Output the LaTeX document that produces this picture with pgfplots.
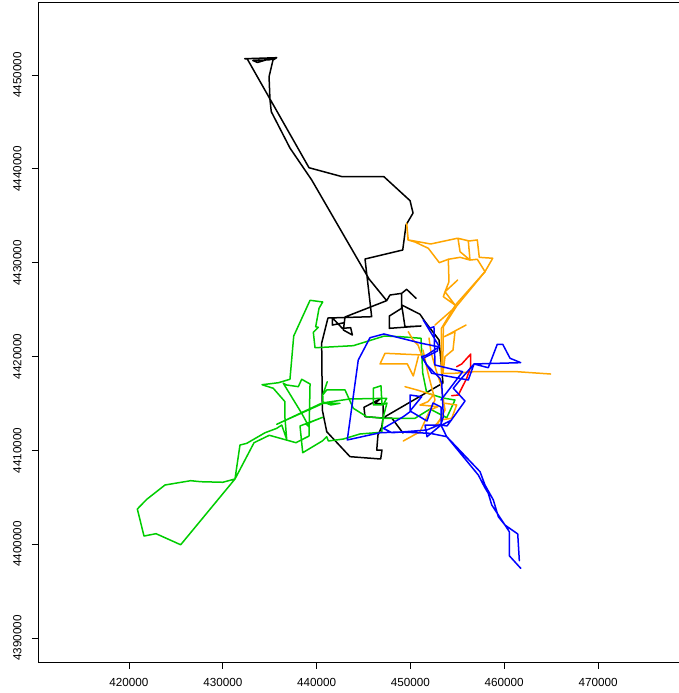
\documentclass[border=0pt]{standalone}
\usepackage{fontspec}
\setmainfont{Liberation Sans}
\usepackage{pgfplots}
\pgfplotsset{compat=1.18}
\definecolor{grthree}{HTML}{00CD00}
\definecolor{orng}{HTML}{FFA500}
\begin{document}
\begin{tikzpicture}
\path[use as bounding box] (-39pt,-31pt) rectangle (640pt,662pt);
\begin{axis}[
  at={(0pt,0pt)},anchor=south west,
  scale only axis,width=650pt,height=659pt,
  xmin=410407,xmax=479697,ymin=4387442,ymax=4457691,
  xtick={420000,430000,440000,450000,460000,470000},
  xticklabels={420000,430000,440000,450000,460000,470000},
  ytick={4390000,4400000,4410000,4420000,4430000,4440000,4450000},
  yticklabels={4390000,4400000,4410000,4420000,4430000,4440000,4450000},
  scaled ticks=false,
  xtick pos=bottom,ytick pos=left,
  tick align=outside,
  major tick length=7pt,
  tick style={black,line width=0.9pt},
  axis line style={black,line width=1pt},
  ticklabel style={font=\fontsize{11.7}{13}\selectfont},
  xticklabel style={anchor=north,yshift=-6pt},
  yticklabel style={xshift=-7pt,rotate=90,anchor=south},
  every axis plot/.style={line width=1.5pt,line join=round,line cap=round,no markers},
]
% black track
\addplot[black] coordinates {
(449210,4411850)(448010,4413450)(447080,4413450)(445160,4413590)(445050,4414590)(446760,4415480)(446230,4415020)(447080,4414940)(447080,4413450)(446940,4412490)(446540,4411640)(446410,4410040)(446970,4410040)(446830,4409080)(443560,4409330)(441080,4411990)(440610,4414300)(440540,4421450)(441210,4424110)(445870,4424250)(445160,4430400)(449180,4431360)(449530,4434020)(450280,4435300)(449960,4436620)(447180,4439170)(442740,4439170)(439190,4440130)(432610,4451720)(432340,4451750)(435750,4451860)(434700,4451650)(433700,4451350)(433200,4451560)(435000,4451640)(435750,4451860)(435350,4451610)(434930,4449830)(435030,4447350)(435170,4446100)(437160,4442230)(439480,4438820)(445590,4428270)(447470,4425960)(443030,4424220)(442850,4422830)(443810,4422300)(443630,4423080)(442740,4423010)(441670,4424140)(441670,4423360)(442950,4423610)(443030,4424220)(447470,4425960)(447820,4426560)(449070,4426740)(449600,4427170)(450600,4426210)(449600,4427170)(449070,4426740)(449070,4425150)(447750,4424320)(447750,4423010)(451130,4423260)(449420,4423180)(449070,4425500)(451020,4424510)(451560,4423720)(453050,4421770)(453470,4417180)(447290,4413590)
};
% green track
\addplot[grthree] coordinates {
(435750,4412350)(436280,4412700)(436810,4411180)(436630,4413420)(436630,4415190)(435380,4416620)(434180,4417000)(435920,4417210)(437160,4417580)(437560,4422190)(439300,4426000)(440650,4425820)(440260,4425150)(439900,4423180)(440180,4423120)(439650,4422590)(439830,4420940)(443910,4421160)(447220,4422190)(448890,4422120)(451130,4421950)(451310,4418250)(451740,4416120)(453470,4415580)(454750,4415370)(453870,4413480)(452090,4414410)(450490,4413420)(447110,4413420)(445340,4413590)(443910,4414490)(443030,4416440)(441080,4416440)(440650,4415900)(441140,4417320)(440650,4415900)(440680,4415160)(441530,4414840)(442490,4415020)(440710,4415020)(435750,4412780)(440580,4415050)(443560,4415480)(447470,4415550)(447080,4414840)(446040,4414840)(446040,4416620)(446860,4416890)(446970,4414840)(447500,4415050)(447080,4413450)(446940,4411930)(444630,4411750)(442850,4411210)(441250,4411000)(441080,4411460)(440650,4411030)(438520,4409750)(438230,4412600)(440650,4413530)(438870,4412810)(439190,4412520)(438410,4413950)(436450,4417150)(436810,4416970)(438050,4416790)(438410,4417580)(439300,4417080)(439190,4411530)(437800,4410820)(434960,4411610)(433330,4410820)(431300,4406950)(425510,4399940)(422880,4401120)(421600,4400870)(420890,4403750)(421890,4404780)(423840,4406310)(426580,4406770)(427640,4406660)(429990,4406600)(431300,4406950)(431830,4410570)(432550,4410750)(434500,4411880)(435750,4412350)
};
% orange tracks
\addplot[orng] coordinates {
(449600,4434210)(449770,4432430)(450240,4432350)(452160,4432000)(455000,4432610)(456170,4432350)(456350,4430290)(455290,4431180)(455070,4432610)(456250,4432320)(457130,4432430)(457340,4430580)(458770,4430480)(457950,4429050)(457130,4430370)(456350,4430290)(455290,4430580)(454040,4430370)(453080,4430010)(451910,4431540)(450490,4432210)(449740,4432430)(449600,4434210)
};
\addplot[orng] coordinates {
(454040,4430370)(454110,4427980)(453690,4426910)(453510,4426380)(454750,4425500)(453690,4426910)(455040,4428160)
};
\addplot[orng] coordinates {
(457950,4429050)(454930,4425390)(452620,4423360)(454930,4425390)(453510,4423180)(453440,4418220)(454750,4418220)(456780,4418390)(461330,4418390)(464950,4418140)
};
\addplot[orng] coordinates {
(457950,4429050)(454800,4425500)(453300,4423000)(453300,4418220)
};
\addplot[orng] coordinates {
(455930,4423360)(453610,4422120)(454750,4422650)(454540,4420700)(453690,4419990)(453470,4418250)
};
\addplot[orng] coordinates {
(449770,4422650)(450280,4421770)(450810,4421230)(451200,4420170)(447290,4420350)(446760,4419210)(449670,4419210)(450310,4417930)(450840,4419990)
};
\addplot[orng] coordinates {
(449420,4416790)(450700,4416440)(452440,4415900)(451870,4415190)(451020,4414840)(452940,4414660)(452090,4414300)(451020,4411990)(449240,4411000)
};
\addplot[orng] coordinates {
(451340,4420700)(451870,4418250)(452620,4415370)(452090,4414300)
};
\addplot[orng] coordinates {
(451980,4421980)(452190,4420490)(452730,4418570)(453260,4416970)(453690,4414300)(452830,4412700)
};
\addplot[orng] coordinates {
(453690,4415020)(454930,4414840)(454400,4413420)(453150,4413240)(452410,4412390)
};
% red track
\addplot[red] coordinates {
(454930,4418920)(455470,4419210)(456430,4420270)(456430,4418920)(456000,4417680)(455100,4415900)(454400,4415830)
};
% blue tracks
\addplot[blue] coordinates {
(461610,4398240)(461440,4401090)(460080,4402040)(459370,4402930)(458840,4404710)(457950,4406310)(457420,4407730)(453870,4411460)(452090,4411820)(448890,4411960)(446760,4411880)(443270,4411110)(444440,4419630)(445690,4422010)(447180,4422410)(451200,4421410)(452970,4421050)(452870,4420590)(451370,4419820)(451740,4419100)(453150,4417680)(453340,4417150)(453510,4413590)(453260,4412810)(451740,4412170)(448040,4411880)(447110,4412350)(449240,4413590)(449960,4414120)(449960,4415900)(451200,4415720)(449960,4414200)(451770,4413130)(452410,4415050)(453260,4414620)(453260,4412700)(451770,4411460)(451560,4412700)(453260,4412700)(453870,4411460)(457240,4407370)(457880,4406130)(458300,4405420)(458670,4404180)(460080,4402040)(460540,4401330)(460540,4398770)(461760,4397430)
};
\addplot[blue] coordinates {
(454400,4413240)(453340,4412700)(453900,4412600)(454750,4413770)(455820,4415260)(454570,4416620)(455290,4417500)(456780,4419210)(458300,4418810)(459260,4421310)(459840,4421310)(460620,4419820)(461760,4419350)(456780,4419210)(456170,4417500)(452270,4418220)(451200,4419990)(451740,4420170)(453080,4421050)(451370,4423900)(452010,4423010)(452510,4423180)(452620,4419100)(455570,4418390)(454220,4416620)(453260,4415370)
};
\end{axis}
\end{tikzpicture}
\end{document}
